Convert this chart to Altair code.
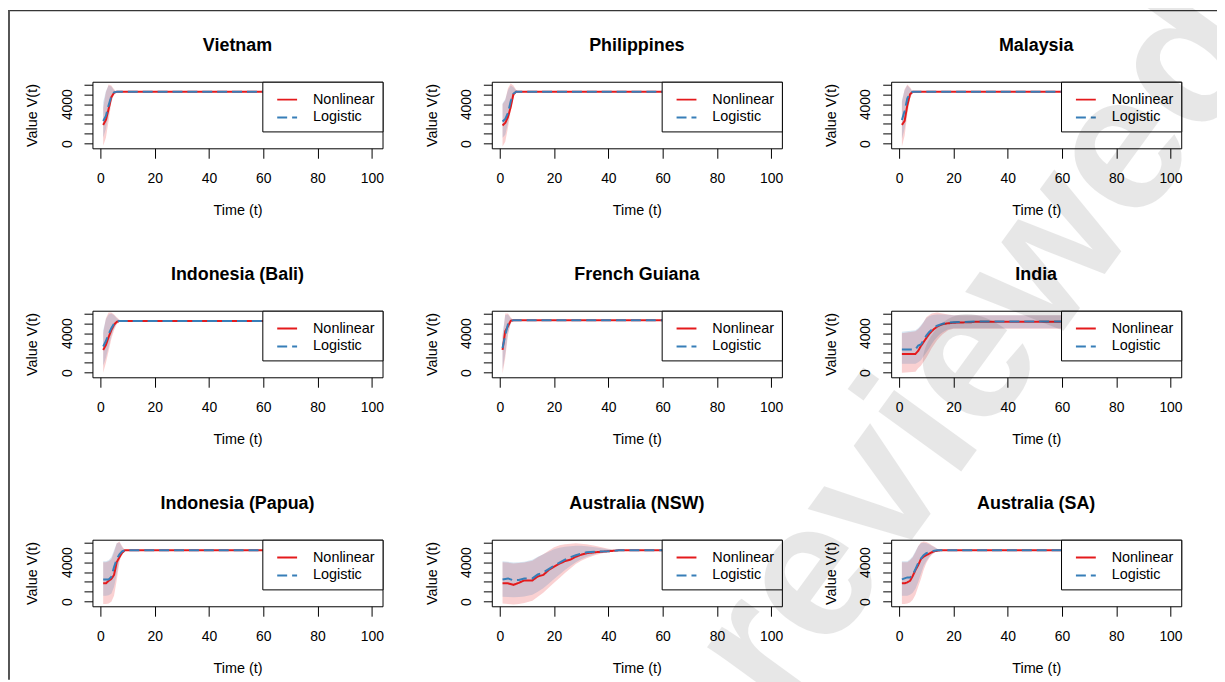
import altair as alt
import pandas as pd

FONT = "Liberation Sans"
RED = "#E41A1C"
BLUE = "#377EB8"
SERIES = ["Nonlinear", "Logistic"]
X_TICKS = [0, 20, 40, 60, 80, 100]
Y_TICKS = [0, 1000, 2000, 3000, 4000, 5000, 6000]

# ---- Vietnam ----
VN_T = [1, 2, 3, 4, 5, 6, 100]
VN_NL = [1900, 2400, 3500, 4700, 5150, 5250, 5250]
VN_LG = [2300, 2800, 3900, 4800, 5200, 5250, 5250]
VN_NL_LO = [-200, 600, 2300, 4200, 5000, 5250, 5250]
VN_NL_HI = [3600, 5200, 6000, 5900, 5500, 5250, 5250]
VN_LG_LO = [600, 1500, 3000, 4400, 5100, 5250, 5250]
VN_LG_HI = [4200, 5300, 5900, 5800, 5400, 5250, 5250]

# ---- Philippines ----
PH_T = [1, 2, 3, 4, 5, 6, 7, 100]
PH_NL = [1850, 2100, 2700, 3700, 5000, 5250, 5250, 5250]
PH_LG = [2250, 2500, 3100, 4300, 5050, 5250, 5250, 5250]
PH_NL_LO = [-300, 200, 1600, 3300, 4700, 5150, 5250, 5250]
PH_NL_HI = [4000, 4400, 5600, 6100, 5900, 5450, 5250, 5250]
PH_LG_LO = [600, 900, 2100, 3700, 4900, 5200, 5250, 5250]
PH_LG_HI = [4100, 4500, 5400, 5900, 5700, 5400, 5250, 5250]

# ---- Malaysia ----
MY_T = [1, 2, 3, 4, 5, 100]
MY_NL = [1900, 2300, 3900, 5000, 5250, 5250]
MY_LG = [2400, 3300, 4600, 5100, 5250, 5250]
MY_NL_LO = [-300, 800, 3000, 4500, 5250, 5250]
MY_NL_HI = [4200, 5500, 6000, 5700, 5250, 5250]
MY_LG_LO = [500, 1500, 3400, 4700, 5250, 5250]
MY_LG_HI = [4400, 5400, 5900, 5600, 5250, 5250]

# ---- Indonesia (Bali) ----
BA_T = [1, 2, 3, 4, 5, 6, 7, 8, 100]
BA_NL = [2300, 2800, 3600, 4300, 4850, 5150, 5230, 5230, 5230]
BA_LG = [2650, 3200, 3900, 4500, 4950, 5180, 5230, 5230, 5230]
BA_NL_LO = [0, 1000, 2200, 3400, 4300, 4900, 5150, 5230, 5230]
BA_NL_HI = [4000, 5500, 6100, 6100, 5900, 5600, 5350, 5230, 5230]
BA_LG_LO = [700, 1500, 2600, 3700, 4500, 5000, 5180, 5230, 5230]
BA_LG_HI = [4300, 5400, 5900, 6000, 5800, 5500, 5300, 5230, 5230]

# ---- French Guiana ----
FG_T = [1, 2, 3, 4, 5, 100]
FG_NL = [2300, 4200, 4700, 5250, 5300, 5300]
FG_LG = [2500, 3800, 4900, 5250, 5300, 5300]
FG_NL_LO = [-100, 1500, 3800, 5000, 5300, 5300]
FG_NL_HI = [3500, 6000, 6000, 5600, 5300, 5300]
FG_LG_LO = [300, 1900, 4000, 5050, 5300, 5300]
FG_LG_HI = [3900, 5800, 5900, 5500, 5300, 5300]

# ---- India ----
IN_T = [1, 6, 7, 8, 9, 10, 11, 12, 13, 14, 15, 16, 18, 20, 22, 26, 28, 100]
IN_NL = [1900, 1900, 2200, 2700, 3100, 3500, 3900, 4200, 4450, 4650, 4800, 4900, 5000, 5050, 5080, 5100, 5150, 5150]
IN_LG = [2350, 2350, 2750, 2850, 3300, 3750, 4100, 4350, 4600, 4750, 4850, 4950, 5050, 5100, 5120, 5150, 5170, 5170]
IN_NL_LO = [0, 100, 450, 700, 1100, 1500, 2000, 2500, 2900, 3300, 3600, 3900, 4300, 4450, 4450, 4450, 4450, 4450]
IN_NL_HI = [4000, 4200, 4400, 4700, 5100, 5600, 5800, 6000, 6050, 6100, 6050, 6000, 5900, 5800, 5800, 5800, 5800, 5800]
IN_LG_LO = [900, 900, 1050, 1250, 1650, 2050, 2450, 2900, 3300, 3600, 3900, 4100, 4400, 4500, 4500, 4500, 4500, 4500]
IN_LG_HI = [4150, 4300, 4500, 4800, 5150, 5500, 5700, 5800, 5850, 5900, 5900, 5900, 5850, 5800, 5800, 5800, 5800, 5800]

# ---- Indonesia (Papua) ----
PA_T = [1, 2, 3, 4, 5, 6, 7, 8, 9, 100]
PA_NL = [1850, 1850, 2100, 2300, 2700, 4000, 4500, 4950, 5200, 5200]
PA_LG = [2250, 2250, 2250, 2500, 3500, 4300, 4800, 5100, 5200, 5200]
PA_NL_LO = [-250, -250, -200, 0, 600, 2200, 4000, 5000, 5200, 5200]
PA_NL_HI = [4000, 4000, 4100, 4300, 5000, 5900, 6100, 5600, 5200, 5200]
PA_LG_LO = [600, 600, 650, 800, 1500, 2800, 4300, 5050, 5200, 5200]
PA_LG_HI = [4100, 4100, 4200, 4500, 5200, 5900, 6000, 5500, 5200, 5200]

# ---- Australia (NSW) ----
NS_T = [1, 3, 5, 7, 9, 12, 14, 16, 18, 20, 22, 24, 26, 28, 30, 32, 35, 40, 44, 100]
NS_NL = [1850, 1850, 1700, 1900, 2150, 2150, 2550, 2700, 3200, 3550, 3850, 4100, 4250, 4550, 4750, 4900, 5000, 5100, 5200, 5200]
NS_LG = [2250, 2350, 2150, 2200, 2350, 2350, 2750, 2950, 3300, 3650, 3950, 4250, 4500, 4700, 4850, 5000, 5050, 5100, 5200, 5200]
NS_NL_LO = [-200, -250, -300, -250, -150, 100, 500, 900, 1400, 1900, 2400, 2900, 3350, 3800, 4150, 4400, 4700, 5050, 5200, 5200]
NS_NL_HI = [4000, 3950, 3850, 3900, 3950, 4150, 4500, 4800, 5150, 5500, 5700, 5800, 5850, 5900, 5850, 5800, 5650, 5350, 5200, 5200]
NS_LG_LO = [500, 480, 450, 480, 520, 700, 1000, 1350, 1800, 2300, 2750, 3200, 3600, 4000, 4300, 4550, 4800, 5100, 5200, 5200]
NS_LG_HI = [4100, 4050, 3950, 4000, 4050, 4250, 4550, 4800, 5050, 5300, 5450, 5550, 5600, 5650, 5650, 5600, 5500, 5300, 5200, 5200]

# ---- Australia (SA) ----
SA_T = [1, 2, 3, 4, 5, 6, 7, 8, 9, 10, 11, 12, 13, 14, 15, 100]
SA_NL = [1850, 1850, 1950, 2100, 2600, 3200, 3700, 4300, 4550, 4700, 4850, 5000, 5100, 5150, 5200, 5200]
SA_LG = [2250, 2350, 2450, 2450, 2700, 3300, 3900, 4350, 4700, 4900, 5000, 5100, 5150, 5200, 5200, 5200]
SA_NL_LO = [-250, -250, -200, -100, 200, 700, 1500, 2300, 3200, 3900, 4400, 4750, 4950, 5100, 5200, 5200]
SA_NL_HI = [4000, 4000, 4000, 4200, 4500, 5000, 5600, 6000, 6100, 6050, 5900, 5700, 5550, 5350, 5200, 5200]
SA_LG_LO = [600, 600, 600, 700, 900, 1300, 2000, 2800, 3600, 4100, 4500, 4800, 5000, 5100, 5200, 5200]
SA_LG_HI = [4100, 4100, 4100, 4300, 4600, 5100, 5600, 5900, 5950, 5900, 5800, 5650, 5500, 5350, 5200, 5200]

PANELS = [
    ("Vietnam", VN_T, VN_NL, VN_LG, VN_NL_LO, VN_NL_HI, VN_LG_LO, VN_LG_HI),
    ("Philippines", PH_T, PH_NL, PH_LG, PH_NL_LO, PH_NL_HI, PH_LG_LO, PH_LG_HI),
    ("Malaysia", MY_T, MY_NL, MY_LG, MY_NL_LO, MY_NL_HI, MY_LG_LO, MY_LG_HI),
    ("Indonesia (Bali)", BA_T, BA_NL, BA_LG, BA_NL_LO, BA_NL_HI, BA_LG_LO, BA_LG_HI),
    ("French Guiana", FG_T, FG_NL, FG_LG, FG_NL_LO, FG_NL_HI, FG_LG_LO, FG_LG_HI),
    ("India", IN_T, IN_NL, IN_LG, IN_NL_LO, IN_NL_HI, IN_LG_LO, IN_LG_HI),
    ("Indonesia (Papua)", PA_T, PA_NL, PA_LG, PA_NL_LO, PA_NL_HI, PA_LG_LO, PA_LG_HI),
    ("Australia (NSW)", NS_T, NS_NL, NS_LG, NS_NL_LO, NS_NL_HI, NS_LG_LO, NS_LG_HI),
    ("Australia (SA)", SA_T, SA_NL, SA_LG, SA_NL_LO, SA_NL_HI, SA_LG_LO, SA_LG_HI),
]

PW, PH = 292, 67          # plot area of one panel
COL_GAP, ROW_GAP = 110, 163.5
ORIGIN_X, ORIGIN_Y = 85, 72   # first plot's top-left inside the canvas

X_SCALE = alt.Scale(domain=[-2.96, 103.96], nice=False, zero=False)
Y_SCALE = alt.Scale(domain=[-470, 6270], nice=False, zero=False)

X_AXIS = alt.Axis(
    values=X_TICKS, title="Time (t)", grid=False, domain=False, format="d",
    tickSize=10, tickColor="black", labelColor="black", labelFont=FONT,
    labelFontSize=14, labelBaseline="alphabetic", labelPadding=24.5,
    labelFlush=False, labelOverlap=False,
    titleFont=FONT, titleFontSize=14.5, titleFontWeight="normal", titleColor="black",
    titleBaseline="alphabetic", titleX=PW / 2, titleY=66.5, titleAlign="center",
)
Y_AXIS = alt.Axis(
    values=Y_TICKS, title="Value V(t)", grid=False, domain=False, format="d",
    tickSize=8.5, tickColor="black", labelColor="black", labelFont=FONT,
    labelFontSize=14, labelAngle=270, labelAlign="center", labelBaseline="alphabetic",
    labelPadding=13, labelFlush=False, labelOverlap=False,
    labelExpr="datum.value == 0 || datum.value == 4000 ? datum.label : ''",
    titleFont=FONT, titleFontSize=14.5, titleFontWeight="normal", titleColor="black",
    titleAngle=270, titleBaseline="alphabetic", titleAlign="center",
    titleX=-56, titleY=PH / 2,
)

LEGEND = alt.Legend(
    orient="top-right", offset=0, title=None, fillColor="white", strokeColor="black",
    padding=7, symbolType="stroke", symbolSize=400, symbolStrokeWidth=2,
    symbolOffset=7, labelOffset=15, labelFont=FONT, labelFontSize=14.5,
    labelColor="black", rowPadding=0, cornerRadius=0,
)


def make_panel(name, t, nl, lg, nl_lo, nl_hi, lg_lo, lg_hi):
    n = len(t)
    lines = pd.DataFrame({"t": t + t, "v": nl + lg,
                          "series": ["Nonlinear"] * n + ["Logistic"] * n})
    band_nl = pd.DataFrame({"t": t, "lo": nl_lo, "hi": nl_hi})
    band_lg = pd.DataFrame({"t": t, "lo": lg_lo, "hi": lg_hi})
    x = alt.X("t:Q", scale=X_SCALE, axis=X_AXIS)
    y_band = alt.Y("lo:Q", scale=Y_SCALE, axis=Y_AXIS)
    color = alt.Color("series:N", scale=alt.Scale(domain=SERIES, range=[RED, BLUE]), legend=LEGEND)
    dash = alt.StrokeDash("series:N", scale=alt.Scale(domain=SERIES, range=[[1, 0], [10, 5]]), legend=LEGEND)

    nl_band = alt.Chart(band_nl).mark_area(color=RED, fillOpacity=0.2, strokeWidth=0).encode(
        x=x, y=y_band, y2="hi:Q")
    lg_band = alt.Chart(band_lg).mark_area(color=BLUE, fillOpacity=0.2, strokeWidth=0).encode(
        x=x, y=y_band, y2="hi:Q")
    base = alt.Chart(lines).mark_line(strokeWidth=2).encode(
        x=x,
        y=alt.Y("v:Q", scale=Y_SCALE, axis=Y_AXIS),
        color=color,
        strokeDash=dash,
    )
    nl_line = base.transform_filter(alt.datum.series == "Nonlinear")
    lg_line = base.transform_filter(alt.datum.series == "Logistic")
    return alt.layer(nl_band, lg_band, nl_line, lg_line).properties(
        width=PW, height=PH,
        title=alt.TitleParams(
            text=name, font=FONT, fontSize=18, fontWeight="bold", color="black",
            anchor="middle", frame="group", offset=12, baseline="alphabetic",
        ),
    )


panels = [make_panel(*p) for p in PANELS]

# overlay cell (4th row, first column) carrying the page frame and the watermark
cell_x, cell_y = 0, 3 * (PH + ROW_GAP)   # its origin relative to the first plot
one = alt.Data(values=[{"k": 1}])
page_left, page_top = -ORIGIN_X, -ORIGIN_Y
top_rule = alt.Chart(one).mark_rule(color="black", strokeWidth=1).encode(
    x=alt.value(page_left - cell_x), x2=alt.value(page_left + 1217 - cell_x),
    y=alt.value(page_top + 0.5 - cell_y),
)
left_rule = alt.Chart(one).mark_rule(color="#555555", strokeWidth=2).encode(
    x=alt.value(page_left + 1 - cell_x),
    y=alt.value(page_top - cell_y), y2=alt.value(page_top + 674 - cell_y),
)
watermark = alt.Chart(one).mark_text(
    text="reviewed", font=FONT, fontSize=195, fontWeight="bold", angle=306, align="center",
    baseline="middle", color="black", opacity=0.09,
).encode(
    x=alt.value(985 - 93 - cell_x), y=alt.value(348 - 80 - cell_y),
)
overlay = alt.layer(top_rule, left_rule, watermark).properties(width=PW, height=PH)

chart = alt.concat(*panels, overlay, columns=3).properties(
    spacing={"row": ROW_GAP, "column": COL_GAP},
    bounds="flush",
    autosize=alt.AutoSizeParams(type="none"),
    padding={"left": ORIGIN_X, "top": ORIGIN_Y, "right": 1217 - ORIGIN_X, "bottom": 674 - ORIGIN_Y},
).resolve_scale(
    x="independent", y="independent", color="independent", strokeDash="independent",
).resolve_legend(
    color="independent", strokeDash="independent",
).configure(
    font=FONT, background="white",
).configure_view(
    stroke="black", strokeWidth=1,
)

chart.save("out.html", embed_options={"renderer": "svg", "actions": False})
